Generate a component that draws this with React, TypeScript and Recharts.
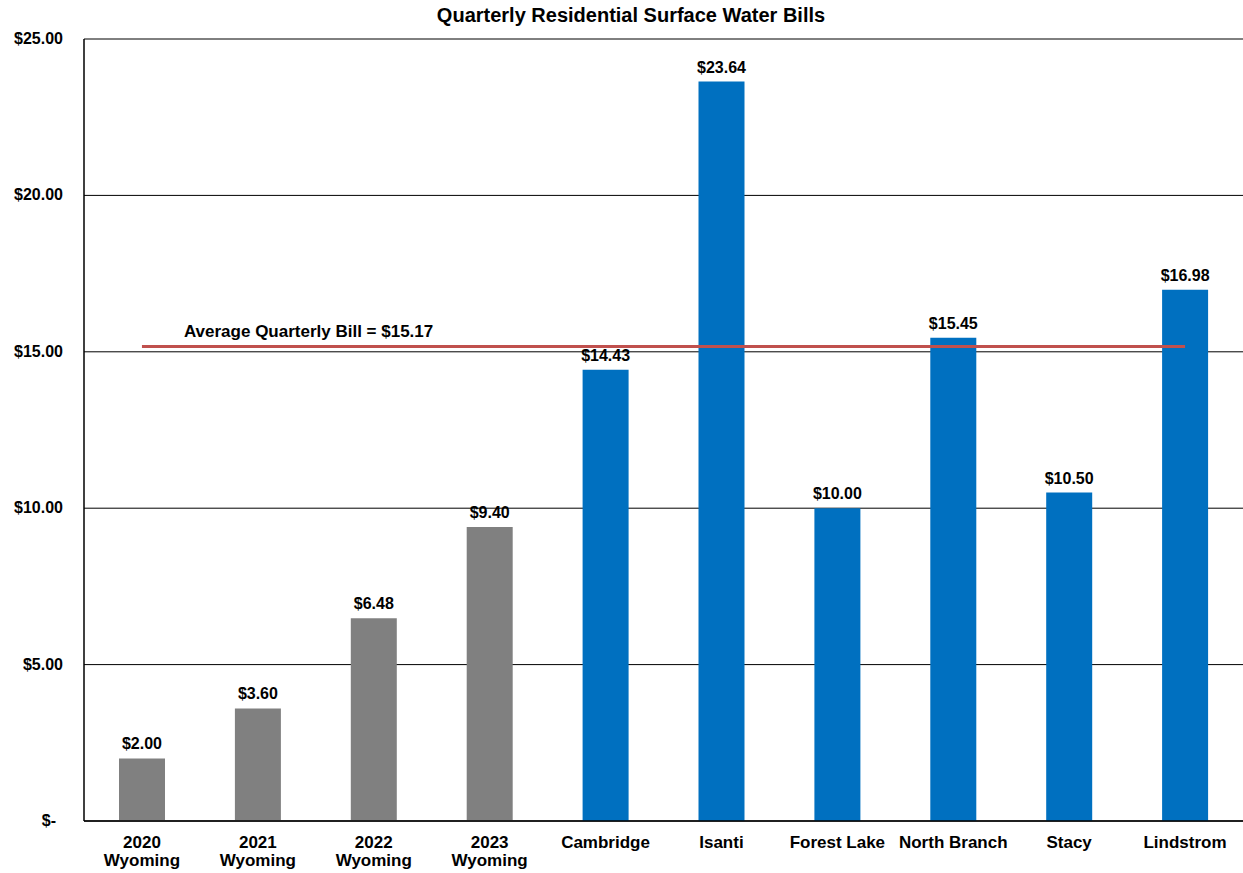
import React from 'react';
import {
  ComposedChart, Bar, Line, XAxis, YAxis, CartesianGrid, Cell, LabelList,
} from 'recharts';

const categories = [
  '2020\nWyoming', '2021\nWyoming', '2022\nWyoming', '2023\nWyoming',
  'Cambridge', 'Isanti', 'Forest Lake', 'North Branch', 'Stacy', 'Lindstrom',
];
const bills = [2.0, 3.6, 6.48, 9.4, 14.43, 23.64, 10.0, 15.45, 10.5, 16.98];
const barColors = [
  '#808080', '#808080', '#808080', '#808080',
  '#0070C0', '#0070C0', '#0070C0', '#0070C0', '#0070C0', '#0070C0',
];
const averageBill = 15.17;
const yTicks = [0, 5, 10, 15, 20, 25];

const data = categories.map((name, i) => ({ name, bill: bills[i], avg: averageBill }));

const FONT = '"Liberation Sans", Arial, sans-serif';

const money = (v: number) => (v === 0 ? '$-' : `$${v.toFixed(2)}`);

const YTick = (props: any) => {
  const { x, y, payload } = props;
  const shift = payload.value === 0 ? -7 : 0;
  return (
    <text x={x + shift} y={y} dy={5} textAnchor="end" fontFamily={FONT} fontSize={16} fontWeight="bold" fill="#000">
      {money(payload.value)}
    </text>
  );
};

const XTick = (props: any) => {
  const { x, y, payload } = props;
  const lines = String(payload.value).split('\n');
  return (
    <text x={x} y={y} textAnchor="middle" fontFamily={FONT} fontSize={17} fontWeight="bold" fill="#000">
      {lines.map((l, i) => (
        <tspan key={i} x={x} dy={i === 0 ? 25 : 18}>{l}</tspan>
      ))}
    </text>
  );
};

// label for the average line, drawn once next to its left end
const AvgLabel = (props: any) => {
  const { x, y, index } = props;
  if (index !== 0) return null;
  return (
    <text x={x + 42} y={y - 9} fontFamily={FONT} fontSize={17} fontWeight="bold" fill="#000">
      {`Average Quarterly Bill = $${averageBill.toFixed(2)}`}
    </text>
  );
};

export default function App() {
  return (
    <div style={{ position: 'absolute', left: 0, top: 0, width: 1243, height: 873, background: '#fff' }}>
      <ComposedChart
        width={1243}
        height={873}
        data={data}
        margin={{ top: 39, right: 0, bottom: 0, left: 0 }}
        barCategoryGap={0}
      >
        <text x={631} y={22} textAnchor="middle" fontFamily={FONT} fontSize={20} fontWeight="bold" fill="#000">
          Quarterly Residential Surface Water Bills
        </text>
        <CartesianGrid vertical={false} stroke="#000" strokeWidth={1} />
        <XAxis
          dataKey="name"
          height={52}
          interval={0}
          tickLine={false}
          axisLine={{ stroke: '#000', strokeWidth: 1.5 }}
          tick={<XTick />}
          tickSize={0}
        />
        <YAxis
          width={84}
          domain={[0, 25]}
          ticks={yTicks}
          tickLine={false}
          axisLine={{ stroke: '#000', strokeWidth: 1.5 }}
          tickSize={0}
          tickMargin={21}
          tick={<YTick />}
        />
        <Bar dataKey="bill" barSize={46} isAnimationActive={false}>
          {data.map((d, i) => (
            <Cell key={d.name} fill={barColors[i]} />
          ))}
          <LabelList
            dataKey="bill"
            position="top"
            offset={9}
            formatter={(v: any) => money(Number(v))}
            style={{ fontFamily: FONT, fontSize: 16, fontWeight: 'bold', fill: '#000' }}
          />
        </Bar>
        <Line
          dataKey="avg"
          stroke="#C0504D"
          strokeWidth={3}
          dot={false}
          activeDot={false}
          isAnimationActive={false}
        >
          <LabelList dataKey="avg" content={<AvgLabel />} />
        </Line>
      </ComposedChart>
    </div>
  );
}
